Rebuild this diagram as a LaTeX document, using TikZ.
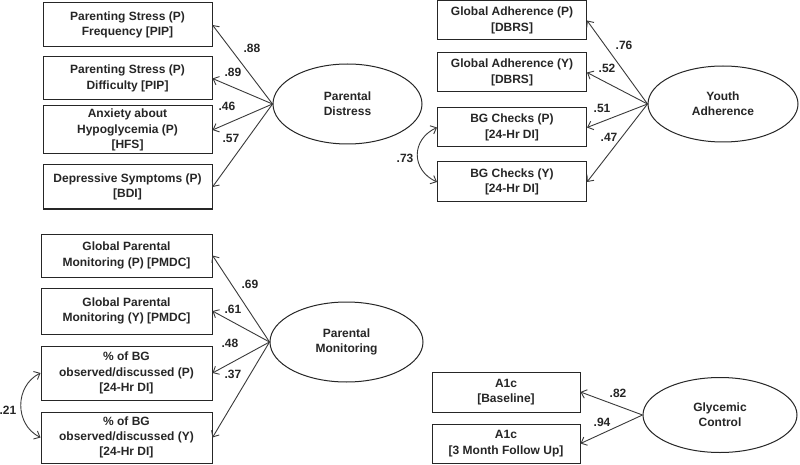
\documentclass[tikz,border=0pt]{standalone}
\usepackage{fontspec}
\setmainfont{Liberation Sans}
\usetikzlibrary{shapes.geometric,arrows.meta}
\definecolor{ink}{HTML}{262626}
\definecolor{edge}{HTML}{3A3A3A}
\begin{document}
\begin{tikzpicture}[x=1pt,y=-1pt,
  font=\fontsize{12}{15.3}\selectfont\bfseries,
  box/.style={draw=ink,line width=1pt,rectangle,inner sep=0pt,align=center,text=ink},
  latent/.style={draw=ink,line width=1pt,ellipse,inner sep=0pt,align=center,text=ink},
  arr/.style={draw=edge,line width=0.9pt,-{Straight Barb[length=5pt,width=9pt]}},
  dbl/.style={draw=edge,line width=0.9pt,{Straight Barb[length=5pt,width=9pt]}-{Straight Barb[length=5pt,width=9pt]}},
  lbl/.style={inner sep=0pt,text=ink}]
\fill[white] (0,0) rectangle (800,465);
\useasboundingbox (0,0) rectangle (800,465);

% Parental Distress
\node[box,minimum width=169pt,minimum height=44pt] (b1) at (127.5,25) {Parenting Stress (P)\\Frequency {[PIP]}};
\node[box,minimum width=169pt,minimum height=43pt] (b2) at (127.5,78.5) {Parenting Stress (P)\\Difficulty {[PIP]}};
\node[box,minimum width=169pt,minimum height=48pt] (b3) at (127.5,130) {Anxiety about\\Hypoglycemia (P)\\{[HFS]}};
\node[box,minimum width=169pt,minimum height=44pt] (b4) at (127.5,187) {Depressive Symptoms (P)\\{[BDI]}};
\node[latent,minimum width=149pt,minimum height=80pt] (pd) at (347.5,104) {Parental\\Distress};
\draw[arr] (pd.west) -- (b1.east);
\draw[arr] (pd.west) -- (b2.east);
\draw[arr] (pd.west) -- (b3.east);
\draw[arr] (pd.west) -- (b4.east);
\node[lbl] (l88) at (252,48) {.88};
\node[lbl] (l89) at (233,72) {.89};
\node[lbl] (l46) at (227,106) {.46};
\node[lbl] (l57) at (231,138) {.57};

% Youth Adherence
\node[box,minimum width=149pt,minimum height=39pt] (y1) at (512,20.5) {Global Adherence (P)\\{[DBRS]}};
\node[box,minimum width=149pt,minimum height=39pt] (y2) at (512,72.5) {Global Adherence (Y)\\{[DBRS]}};
\node[box,minimum width=149pt,minimum height=39pt] (y3) at (512,127.5) {BG Checks (P)\\{[24-Hr DI]}};
\node[box,minimum width=149pt,minimum height=40pt] (y4) at (512,182) {BG Checks (Y)\\{[24-Hr DI]}};
\node[latent,minimum width=150pt,minimum height=76pt] (ya) at (723,104) {Youth\\Adherence};
\draw[arr] (ya.west) -- (y1.east);
\draw[arr] (ya.west) -- (y2.east);
\draw[arr] (ya.west) -- (y3.east);
\draw[arr] (ya.west) -- (y4.east);
\node[lbl] (l76) at (624,45) {.76};
\node[lbl] (l52) at (607,68) {.52};
\node[lbl] (l51) at (602,108) {.51};
\node[lbl] (l47) at (609,137) {.47};
\draw[dbl] (y3.west) .. controls +(-26,12) and +(-26,-12) .. (y4.west);
\node[lbl] (l73) at (405,158) {.73};

% Parental Monitoring
\node[box,minimum width=171pt,minimum height=43pt] (m1) at (126.5,255.5) {Global Parental\\Monitoring (P) {[PMDC]}};
\node[box,minimum width=171pt,minimum height=46pt] (m2) at (126.5,311) {Global Parental\\Monitoring (Y) {[PMDC]}};
\node[box,minimum width=171pt,minimum height=54pt] (m3) at (126.5,373) {\% of BG\\observed/discussed (P)\\{[24-Hr DI]}};
\node[box,minimum width=171pt,minimum height=51pt] (m4) at (126.5,437.5) {\% of BG\\observed/discussed (Y)\\{[24-Hr DI]}};
\node[latent,minimum width=153pt,minimum height=80pt] (pm) at (346.5,342) {Parental\\Monitoring};
\draw[arr] (pm.west) -- (m1.east);
\draw[arr] (pm.west) -- (m2.east);
\draw[arr] (pm.west) -- (m3.east);
\draw[arr] (pm.west) -- (m4.east);
\node[lbl] (l69) at (250,284) {.69};
\node[lbl] (l61) at (233,309) {.61};
\node[lbl] (l48) at (230,343) {.48};
\node[lbl] (l37) at (233,374) {.37};
\draw[dbl] (m3.west) .. controls +(-26,13) and +(-26,-13) .. (m4.west);
\node[lbl] (l21) at (8,410) {.21};

% Glycemic Control
\node[box,minimum width=148pt,minimum height=40pt] (g1) at (506,392) {A1c\\{[Baseline]}};
\node[box,minimum width=148pt,minimum height=39pt] (g2) at (506,443.5) {A1c\\{[3 Month Follow Up]}};
\node[latent,minimum width=154pt,minimum height=75pt] (gc) at (720,415) {Glycemic\\Control};
\draw[arr] (gc.west) -- (g1.east);
\draw[arr] (gc.west) -- (g2.east);
\node[lbl] (l82) at (618,393) {.82};
\node[lbl] (l94) at (602,422) {.94};
\end{tikzpicture}
\end{document}
